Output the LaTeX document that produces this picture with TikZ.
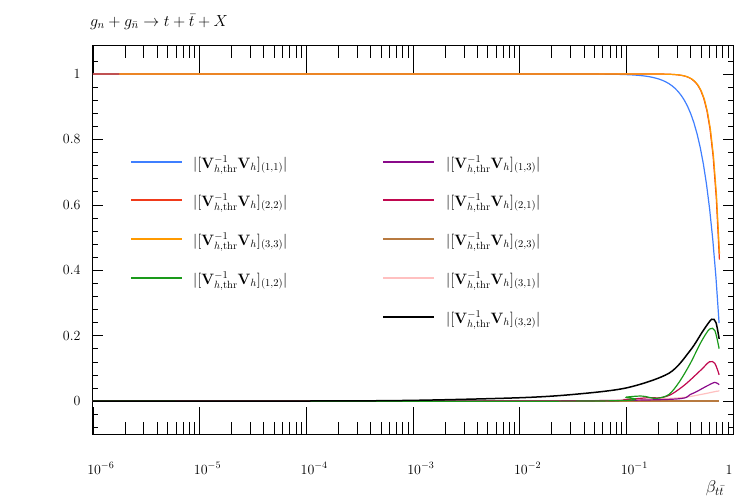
\RequirePackage{fix-cm}
\documentclass[tikz,border=0pt]{standalone}
\usepackage{amsmath}
\definecolor{cblue}{HTML}{3F7FFF}
\definecolor{cred}{HTML}{F03A1A}
\definecolor{corange}{HTML}{FF9A00}
\definecolor{cgreen}{HTML}{1A9A1A}
\definecolor{cpurple}{HTML}{8A0A8A}
\definecolor{ccrim}{HTML}{C0084F}
\definecolor{cbrown}{HTML}{B87A40}
\definecolor{cpink}{HTML}{FFC0C0}
\newcommand{\lab}[1]{$|[\mathbf{V}_{h,\mathrm{thr}}^{-1}\mathbf{V}_h]_{(#1)}|$}
\begin{document}
\begin{tikzpicture}[x=1pt,y=-1pt,
  crv/.style={line width=1.2pt},
  lg/.style={anchor=west,font=\fontsize{15}{17}\selectfont,inner sep=0pt},
  tk/.style={font=\fontsize{14}{16}\selectfont}]
\useasboundingbox (0,0) rectangle (747,499);
\node[anchor=base west,font=\fontsize{16}{18}\selectfont,inner sep=0pt] (title) at (90,26) {$g_n+g_{\bar n}\to t+\bar t+X$};
% frame
\draw[line width=0.6pt] (92.7,45.7) rectangle (733,434);
% y ticks
\foreach \v/\t in {0/0,0.2/0.2,0.4/0.4,0.6/0.6,0.8/0.8,1/1}{
  \draw[line width=0.5pt] (92.7,401-327*\v) -- ++(10,0);
  \draw[line width=0.5pt] (733,401-327*\v) -- ++(-10,0);
  \node[tk,anchor=east] at (84,401-327*\v) {\t};}
\foreach \v in {-0.08,-0.04,0.04,0.08,...,1.08}{
  \draw[line width=0.5pt] (92.7,401-327*\v) -- ++(5,0);
  \draw[line width=0.5pt] (733,401-327*\v) -- ++(-5,0);}
% x ticks
\foreach \d in {-6,...,-1}{
  \draw[line width=0.5pt] (733+106.7*\d,434) -- ++(0,-27);
  \draw[line width=0.5pt] (733+106.7*\d,45.7) -- ++(0,27);
  \foreach \m in {2,...,9}{
    \pgfmathsetmacro\xx{733+106.7*(\d+log10(\m))}
    \draw[line width=0.5pt] (\xx,434) -- ++(0,-12);
    \draw[line width=0.5pt] (\xx,45.7) -- ++(0,12);}}
\foreach \d in {-6,...,-1}{
  \node[tk,anchor=base] at (733+106.7*\d+8,474) {$10^{\d}$};}
\node[tk,anchor=base] at (729,474) {1};
\node[font=\fontsize{17}{19}\selectfont,anchor=base] (xl) at (715,492) {$\beta_{t\bar t}$};
% curves
\begin{scope}[shift={(733,401)},x=106.7pt,y=327pt]
\clip (-6,-0.1) rectangle (0,1.09);
\draw[cbrown,crv] (-6,1) -- (-5.75,1);
\draw[cbrown,crv] plot coordinates {(-6,0) (-0.13,0)};
\draw[cblue,crv] plot[domain=-6:-0.13,samples=200] (\x,{1-1.875*10^(3*\x)});
\draw[cred,crv] plot[domain=-6:-0.125,samples=200] (\x,{1-3.3*10^(6*\x)});
\draw[corange,crv] plot[domain=-5.75:-0.125,samples=200] (\x,{1-3.15*10^(6*\x)});
\draw[cpink,crv] plot[smooth] coordinates {(-6,0) (-2,0) (-1,0.003) (-0.5,0.01) (-0.3,0.02) (-0.15,0.03) (-0.13,0.03)};
\draw[cpurple,crv] plot[smooth] coordinates {(-6,0) (-2,0) (-0.6,0.005) (-0.4,0.02) (-0.25,0.045) (-0.17,0.057) (-0.13,0.05)};
\draw[ccrim,crv] plot[smooth] coordinates {(-6,0) (-1.5,0) (-1,0.005) (-0.8,0.01) (-0.68,0.01) (-0.58,0.02) (-0.45,0.05) (-0.3,0.095) (-0.22,0.12) (-0.17,0.115) (-0.13,0.08)};
\draw[cgreen,crv] plot[smooth] coordinates {(-6,0) (-1.3,0) (-1,0.012) (-0.85,0.015) (-0.72,0.008) (-0.6,0.02) (-0.5,0.06) (-0.4,0.115) (-0.3,0.18) (-0.22,0.22) (-0.17,0.215) (-0.13,0.16)};
\draw[black,line width=1.5pt] plot[smooth] coordinates {(-6,0) (-4,0) (-3,0.002) (-2,0.01) (-1.5,0.02) (-1,0.04) (-0.6,0.085) (-0.4,0.155) (-0.28,0.215) (-0.2,0.25) (-0.16,0.24) (-0.13,0.19)};
\end{scope}
% legend
\foreach \c/\t/\y/\n in {cblue/{1,1}/162/a,cred/{2,2}/200/b,corange/{3,3}/239/c,cgreen/{1,2}/278/d}{
  \draw[\c,crv] (131,\y) -- (182,\y);
  \node[lg] (l\n) at (193,\y+3) {\lab{\t}};}
\foreach \c/\t/\y/\n in {cpurple/{1,3}/162/e,ccrim/{2,1}/200/f,cbrown/{2,3}/239/g,cpink/{3,1}/278/h,black/{3,2}/317/i}{
  \draw[\c,crv] (383,\y) -- (434,\y);
  \node[lg] (l\n) at (446,\y+3) {\lab{\t}};}
\end{tikzpicture}
\end{document}
